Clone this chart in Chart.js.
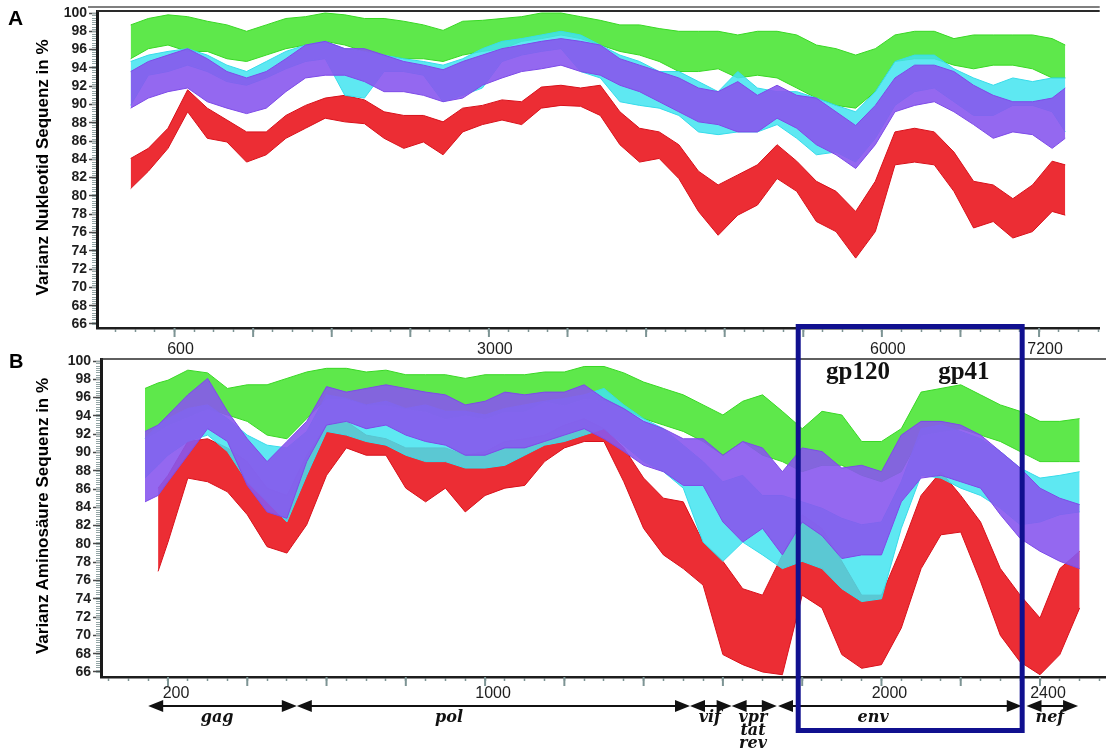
<!DOCTYPE html>
<html lang="de">
<head>
  <meta charset="UTF-8" />
  <title>Varianz Nukleotid- und Aminosäure-Sequenz</title>
  <script src="https://cdn.jsdelivr.net/npm/chart.js"></script>
  <style>
    body { margin: 0; background: #fff; }
    #page { position: relative; width: 1106px; height: 748px; overflow: hidden; }
    canvas, svg { position: absolute; left: 0; }
    #chartA { top: 0; }
    #chartB { top: 340px; }
    #overlay { top: 0; pointer-events: none; }
  </style>
</head>
<body>
<div id="page">
  <canvas id="chartA" width="1106" height="356"></canvas>
  <canvas id="chartB" width="1106" height="408"></canvas>
  <svg id="overlay" width="1106" height="748"></svg>
</div>

<script>
  // ---- panel A: nucleotide position (window centres) ----
  const xA = [265, 400, 550, 700, 850, 1000, 1150, 1300, 1450, 1600,
              1750, 1900, 2050, 2200, 2350, 2500, 2650, 2800, 2950, 3100,
              3250, 3400, 3550, 3700, 3850, 4000, 4150, 4300, 4450, 4600,
              4750, 4900, 5050, 5200, 5350, 5500, 5650, 5800, 5950, 6100,
              6250, 6400, 6550, 6700, 6850, 7000, 7150, 7300, 7400];

  // upper / lower edge of each group of curves, in %
  const greenTopA = [98.7, 99.4, 99.8, 99.6, 99.1, 98.7, 98.0, 98.7, 99.4, 99.6,
                     100.0, 99.8, 99.4, 99.4, 99.1, 98.7, 98.1, 99.1, 99.2, 99.4,
                     99.6, 100.0, 100.0, 99.6, 99.2, 98.7, 98.7, 98.3, 98.0, 98.0,
                     98.0, 97.6, 98.0, 98.0, 97.6, 96.5, 96.1, 95.4, 96.1, 97.6,
                     98.0, 98.0, 97.2, 97.6, 97.6, 97.6, 97.6, 97.2, 96.5];
  const greenBotA = [95.0, 96.1, 96.5, 95.8, 95.8, 95.0, 94.7, 95.4, 96.1, 96.5,
                     96.9, 96.5, 95.8, 95.4, 95.0, 95.0, 94.7, 95.4, 95.8, 96.1,
                     96.9, 97.2, 97.6, 97.2, 96.5, 95.8, 95.4, 94.7, 93.6, 93.6,
                     93.9, 92.9, 93.2, 92.9, 91.8, 90.7, 89.9, 89.6, 91.4, 94.7,
                     95.0, 95.0, 94.3, 93.9, 94.3, 94.3, 93.9, 92.9, 92.9];
  const cyanTopA  = [94.7, 95.4, 95.8, 96.1, 95.4, 94.3, 93.6, 94.7, 95.8, 96.5,
                     96.9, 96.1, 95.8, 95.4, 95.0, 94.7, 94.3, 95.0, 96.1, 96.9,
                     97.2, 97.6, 98.0, 97.6, 96.5, 95.4, 94.7, 93.6, 93.6, 92.5,
                     91.4, 93.6, 91.8, 91.4, 91.4, 90.7, 89.9, 89.2, 91.4, 94.7,
                     95.4, 95.4, 93.9, 92.9, 92.1, 92.9, 92.5, 92.9, 92.9];
  const cyanBotA  = [89.9, 93.2, 93.6, 94.3, 93.6, 92.5, 92.1, 92.9, 93.9, 94.7,
                     95.0, 91.0, 90.7, 93.6, 93.6, 93.2, 90.3, 91.0, 91.8, 94.7,
                     95.4, 95.8, 96.1, 93.6, 92.9, 90.3, 89.9, 89.6, 88.8, 87.0,
                     86.7, 87.0, 87.0, 87.8, 86.3, 84.5, 84.8, 83.7, 86.3, 89.9,
                     91.4, 91.8, 90.3, 88.8, 88.8, 89.9, 89.9, 89.2, 87.0];
  const purpleTopA = [93.6, 94.7, 95.4, 96.1, 95.0, 93.6, 92.9, 93.6, 95.0, 96.5,
                      96.9, 96.1, 96.1, 95.4, 94.7, 94.3, 93.8, 94.7, 95.4, 96.1,
                      96.5, 96.9, 97.2, 96.9, 96.5, 95.0, 94.3, 93.6, 92.9, 91.8,
                      91.4, 92.5, 91.0, 92.1, 91.0, 90.7, 89.2, 87.7, 89.9, 92.9,
                      94.3, 94.3, 93.6, 92.1, 91.0, 90.3, 90.3, 90.7, 91.8];
  const purpleBotA = [89.6, 90.7, 91.4, 91.8, 90.3, 89.6, 89.0, 89.6, 91.4, 92.9,
                      93.2, 93.2, 92.5, 91.4, 91.4, 91.0, 90.3, 90.7, 92.1, 92.9,
                      93.6, 93.9, 94.3, 93.6, 93.2, 92.1, 91.4, 90.3, 89.2, 88.1,
                      87.8, 87.0, 87.0, 88.5, 87.4, 85.6, 84.5, 83.0, 85.6, 89.2,
                      89.9, 90.3, 89.2, 87.8, 86.3, 87.0, 86.7, 85.2, 86.3];
  const redTopA = [84.1, 85.2, 87.4, 91.6, 89.6, 88.3, 87.0, 87.0, 88.8, 89.9,
                   90.7, 91.0, 90.5, 89.2, 88.8, 88.8, 88.1, 89.6, 89.9, 90.5,
                   90.3, 91.9, 92.1, 91.8, 92.1, 89.2, 87.4, 87.0, 85.6, 82.7,
                   81.2, 82.3, 83.4, 85.6, 83.8, 81.6, 80.5, 78.3, 81.6, 87.0,
                   87.4, 87.0, 84.8, 81.6, 81.2, 79.7, 81.2, 83.8, 83.4];
  const redBotA = [80.8, 82.7, 85.2, 89.2, 86.3, 85.9, 83.7, 84.5, 86.3, 87.4,
                   88.5, 88.1, 87.9, 86.3, 85.2, 85.9, 84.5, 87.0, 87.8, 88.3,
                   87.8, 89.6, 89.9, 89.8, 88.8, 85.6, 83.7, 84.1, 81.9, 78.3,
                   75.7, 77.9, 79.0, 81.9, 80.5, 77.2, 76.1, 73.2, 76.1, 83.4,
                   83.7, 83.4, 80.5, 76.5, 77.2, 75.4, 76.1, 78.3, 77.9];

  // ---- panel B: amino acid position ----
  const xB = [142, 175, 200, 250, 300, 350, 400, 450, 500, 550,
              600, 650, 700, 750, 800, 850, 900, 950, 1000, 1050,
              1100, 1150, 1200, 1250, 1300, 1350, 1400, 1450, 1500, 1550,
              1600, 1650, 1700, 1750, 1800, 1850, 1900, 1950, 2000, 2050,
              2100, 2150, 2200, 2250, 2300, 2350, 2400, 2450, 2500];

  const greenTopB = [97.0, 97.6, 97.9, 99.0, 98.7, 97.0, 97.4, 97.4, 98.1, 98.8,
                     99.2, 99.2, 98.8, 99.0, 98.5, 98.5, 98.5, 98.1, 98.5, 98.5,
                     98.5, 98.8, 98.8, 99.4, 99.4, 98.7, 97.7, 97.0, 96.3, 95.2,
                     94.1, 95.6, 96.3, 94.5, 92.6, 94.5, 94.1, 91.2, 91.2, 92.6,
                     96.6, 97.0, 97.4, 96.3, 95.2, 94.5, 93.4, 93.4, 93.7];
  const greenBotB = [91.5, 92.3, 93.0, 93.9, 94.8, 94.1, 93.4, 91.9, 91.5, 93.7,
                     95.9, 95.9, 95.2, 95.2, 94.8, 94.5, 93.7, 94.1, 93.7, 94.5,
                     94.5, 95.6, 95.2, 95.9, 95.7, 94.8, 93.7, 93.0, 92.3, 91.2,
                     89.7, 91.2, 89.7, 89.0, 87.9, 88.6, 88.6, 87.5, 86.8, 87.9,
                     91.9, 92.3, 92.6, 91.9, 91.2, 90.1, 89.0, 89.0, 89.0];
  const cyanTopB  = [91.5, 93.0, 93.7, 94.8, 95.2, 93.7, 91.9, 90.8, 90.5, 92.3,
                     96.3, 95.9, 95.2, 95.6, 94.8, 95.2, 94.5, 94.5, 94.1, 94.8,
                     95.2, 95.6, 95.9, 96.3, 97.0, 95.2, 93.7, 92.6, 90.8, 89.0,
                     86.8, 87.5, 85.3, 85.3, 84.6, 83.9, 82.8, 82.1, 82.4, 86.8,
                     92.6, 93.0, 92.3, 91.5, 90.1, 88.3, 87.2, 87.5, 87.9];
  const cyanBotB  = [87.2, 88.6, 89.7, 91.2, 91.9, 90.1, 86.8, 84.6, 82.4, 87.5,
                     92.3, 91.9, 91.2, 90.8, 89.7, 89.0, 89.0, 88.3, 88.3, 88.6,
                     89.7, 90.8, 91.2, 91.9, 92.6, 90.8, 89.0, 87.9, 86.1, 80.2,
                     78.1, 80.2, 78.8, 77.3, 78.1, 77.3, 75.1, 73.7, 74.0, 81.7,
                     87.5, 87.2, 86.1, 85.3, 83.9, 82.1, 82.4, 83.2, 83.5];
  const purpleTopB = [92.3, 93.0, 94.1, 96.3, 98.1, 94.5, 91.5, 89.0, 91.2, 93.4,
                      97.2, 96.6, 97.0, 97.4, 97.0, 96.6, 96.3, 95.2, 95.6, 96.6,
                      96.3, 96.6, 96.6, 97.4, 95.9, 94.8, 93.4, 92.6, 91.5, 91.5,
                      89.7, 91.2, 90.5, 87.9, 90.5, 90.1, 88.3, 88.6, 87.9, 91.9,
                      93.4, 93.4, 93.0, 91.9, 90.1, 88.3, 86.1, 85.0, 84.3];
  const purpleBotB = [84.6, 85.3, 86.8, 89.7, 92.6, 91.2, 86.4, 83.5, 82.8, 89.0,
                      93.0, 93.4, 92.6, 93.0, 91.9, 91.2, 90.8, 89.7, 89.7, 90.5,
                      90.5, 91.2, 91.9, 92.6, 91.5, 90.1, 88.6, 87.9, 86.4, 86.4,
                      82.4, 80.2, 81.7, 78.8, 82.4, 80.9, 78.4, 78.8, 78.8, 84.6,
                      87.2, 87.5, 86.8, 86.1, 83.2, 80.6, 79.2, 78.1, 77.3];
  const redTopB = [null, 86.1, 87.5, 91.2, 91.5, 90.5, 89.0, 86.1, 85.3, 89.7,
                   93.0, 93.4, 91.9, 91.5, 90.5, 90.5, 90.5, 89.7, 90.1, 91.2,
                   91.5, 91.9, 93.0, 93.7, 92.6, 90.5, 87.2, 85.0, 84.6, 80.2,
                   78.1, 75.1, 74.4, 78.8, 83.2, 81.7, 78.1, 74.4, 74.4, 79.5,
                   85.3, 87.9, 85.3, 82.4, 77.3, 74.4, 71.9, 77.3, 79.2];
  const redBotB = [null, 77.0, 80.2, 87.2, 86.8, 85.7, 83.2, 79.7, 79.0, 82.1,
                   87.5, 90.5, 89.7, 89.7, 86.1, 84.6, 86.1, 83.5, 85.3, 86.1,
                   86.4, 89.0, 90.5, 91.2, 91.2, 86.8, 81.7, 78.8, 77.3, 75.5,
                   67.9, 66.8, 66.0, 65.7, 74.4, 73.0, 67.9, 66.4, 66.8, 70.8,
                   77.3, 81.0, 81.3, 75.9, 70.0, 67.1, 65.7, 67.9, 73.0];

  // ---- axes ----
  const yTicks = [66, 68, 70, 72, 74, 76, 78, 80, 82, 84, 86, 88, 90, 92, 94, 96, 98, 100];
  const xLabelsA = [600, 3000, 6000, 7200];
  const xLabelsB = [200, 1000, 2000, 2400];

  // genome regions below panel B (amino acid positions)
  const genes = [
    { name: ['gag'], from: 150, to: 525, at: 324 },
    { name: ['pol'], from: 525, to: 1517, at: 909 },
    { name: ['vif'], from: 1517, to: 1622, at: 1567 },
    { name: ['vpr', 'tat', 'rev'], from: 1622, to: 1736, at: 1676 },
    { name: ['env'], from: 1739, to: 2354, at: 1979 },
    { name: ['nef'], from: 2366, to: 2496, at: 2425 }
  ];
  const envBox = [1790, 2355];
  const proteins = [{ name: 'gp120', at: 1941 }, { name: 'gp41', at: 2208 }];

  const SANS = "'Liberation Sans', Arial, Helvetica, sans-serif";
  const COLORS = {
    purple: ['#7d4ae8', 'rgba(136,88,238,0.9)'],
    cyan:   ['#36dcea', 'rgba(66,228,240,0.85)'],
    red:    ['#d8101a', 'rgba(234,22,30,0.9)'],
    green:  ['#38d824', 'rgba(66,228,44,0.85)']
  };

  const pts = (xs, ys) => xs.map((x, i) => ({ x: x, y: ys[i] })).filter(p => p.y !== null);

  // ruler ticks on y, longer major ticks on x, frame lines
  const axisExtras = {
    id: 'axisExtras',
    afterDraw(chart, args, opts) {
      const { ctx, chartArea: a, scales: { x, y } } = chart;
      ctx.save();
      ctx.strokeStyle = '#93a5a5';
      ctx.lineWidth = 1;
      for (let v = 66; v <= 100; v += 0.25) {
        const py = Math.round(y.getPixelForValue(v)) + 0.5;
        ctx.beginPath(); ctx.moveTo(a.left - 5, py); ctx.lineTo(a.left - 1, py); ctx.stroke();
      }
      ctx.strokeStyle = '#7d9494';
      ctx.lineWidth = 2;
      x.ticks.forEach(t => {
        if (t.value % opts.major === 0) {
          const px = x.getPixelForValue(t.value);
          ctx.beginPath(); ctx.moveTo(px, a.bottom); ctx.lineTo(px, a.bottom + 9); ctx.stroke();
        }
      });
      ctx.strokeStyle = '#2a2a2a';
      ctx.lineWidth = opts.topWidth;
      ctx.beginPath(); ctx.moveTo(a.left, a.top); ctx.lineTo(a.right, a.top); ctx.stroke();
      if (opts.doubleTop) {
        ctx.strokeStyle = '#555';
        ctx.lineWidth = 1.5;
        ctx.beginPath(); ctx.moveTo(a.left - 9, a.top - 4); ctx.lineTo(a.right, a.top - 4); ctx.stroke();
      }
      ctx.restore();
    }
  };

  function makeChart(id, xs, bands, o) {
    const datasets = [];
    bands.forEach(([key, top, bot]) => {
      const [line, fill] = COLORS[key];
      datasets.push({ data: pts(xs, top), borderColor: line, borderWidth: 1, pointRadius: 0, fill: false });
      datasets.push({ data: pts(xs, bot), borderColor: line, borderWidth: 1, pointRadius: 0,
                      fill: '-1', backgroundColor: fill });
    });

    return new Chart(document.getElementById(id), {
      type: 'line',
      data: { datasets: datasets },
      options: {
        responsive: false,
        animation: false,
        devicePixelRatio: 1,
        layout: { padding: { top: o.padTop, left: 0, right: 0, bottom: 0 } },
        plugins: {
          legend: { display: false },
          tooltip: { enabled: false },
          axisExtras: { major: o.major, topWidth: o.topWidth, doubleTop: o.doubleTop }
        },
        scales: {
          x: {
            type: 'linear',
            min: o.xMin, max: o.xMax,
            afterFit: s => { s.height = o.xHeight; },
            afterBuildTicks: s => {
              const t = [];
              for (let v = o.minor; v <= o.xMax; v += o.minor) t.push({ value: v });
              s.ticks = t;
            },
            ticks: {
              autoSkip: false, maxRotation: 0,
              padding: o.labelPad, labelOffset: o.labelOffset,
              font: { family: SANS, size: 16 }, color: '#1e1e1e',
              callback: v => o.labels.includes(v) ? String(v) : ''
            },
            grid: { drawOnChartArea: false, tickLength: 4, color: '#7d9494', tickWidth: 1.5 },
            border: { color: '#1e1e1e', width: 2.5 }
          },
          y: {
            min: o.yMin, max: o.yMax,
            afterFit: s => { s.width = o.yWidth; },
            afterBuildTicks: s => { s.ticks = yTicks.map(v => ({ value: v })); },
            ticks: { autoSkip: false, font: { family: SANS, size: 14, weight: 'bold' }, color: '#1e1e1e', padding: 2 },
            grid: { drawOnChartArea: false, tickLength: 8, color: '#4a4a4a', tickWidth: 1.5 },
            border: { color: '#1a1a1a', width: 3 }
          }
        }
      },
      plugins: [axisExtras]
    });
  }

  const chartA = makeChart('chartA', xA, [
    ['purple', purpleTopA, purpleBotA],
    ['cyan', cyanTopA, cyanBotA],
    ['red', redTopA, redBotA],
    ['green', greenTopA, greenBotA]
  ], { padTop: 11, xHeight: 28, yWidth: 97, xMin: 8, xMax: 7663, minor: 150, major: 600,
       yMin: 65.56, yMax: 100.22, labels: xLabelsA, labelPad: 8, labelOffset: 6,
       topWidth: 2, doubleTop: true });

  const chartB = makeChart('chartB', xB, [
    ['purple', purpleTopB, purpleBotB],
    ['cyan', cyanTopB, cyanBotB],
    ['red', redTopB, redBotB],
    ['green', greenTopB, greenBotB]
  ], { padTop: 19, xHeight: 71, yWidth: 101, xMin: 31, xMax: 2566.5, minor: 50, major: 200,
       yMin: 65.45, yMax: 100.22, labels: xLabelsB, labelPad: 3, labelOffset: 8,
       topWidth: 1.5, doubleTop: false });

  // ---- annotations ----
  const svg = document.getElementById('overlay');
  const NS = 'http://www.w3.org/2000/svg';
  function svgEl(tag, attrs, text) {
    const el = document.createElementNS(NS, tag);
    for (const k in attrs) el.setAttribute(k, attrs[k]);
    if (text !== undefined) el.textContent = text;
    svg.appendChild(el);
    return el;
  }

  svgEl('text', { x: 8, y: 25, 'font-family': SANS, 'font-weight': 'bold', 'font-size': 21 }, 'A');
  svgEl('text', { x: 9, y: 368, 'font-family': SANS, 'font-weight': 'bold', 'font-size': 20 }, 'B');
  svgEl('text', { transform: 'translate(47.5,167.5) rotate(-90)', 'text-anchor': 'middle',
                  'font-family': SANS, 'font-weight': 'bold', 'font-size': 17 }, 'Varianz Nukleotid Sequenz in %');
  svgEl('text', { transform: 'translate(47.5,516) rotate(-90)', 'text-anchor': 'middle',
                  'font-family': SANS, 'font-weight': 'bold', 'font-size': 17 }, 'Varianz Aminosäure Sequenz in %');

  const sx = chartB.scales.x;
  const arrowY = 706;
  genes.forEach(g => {
    const p1 = sx.getPixelForValue(g.from), p2 = sx.getPixelForValue(g.to);
    svgEl('line', { x1: p1 + 8, y1: arrowY, x2: p2 - 8, y2: arrowY, stroke: '#111', 'stroke-width': 2 });
    svgEl('polygon', { points: `${p1},${arrowY} ${p1 + 15},${arrowY - 6} ${p1 + 15},${arrowY + 6}`, fill: '#111' });
    svgEl('polygon', { points: `${p2},${arrowY} ${p2 - 15},${arrowY - 6} ${p2 - 15},${arrowY + 6}`, fill: '#111' });
    const cx = sx.getPixelForValue(g.at);
    g.name.forEach((n, i) => {
      svgEl('text', { x: cx, y: 722 + i * 13, 'text-anchor': 'middle', 'font-family': "'DejaVu Serif', serif",
                      'font-weight': 'bold', 'font-style': 'italic', 'font-size': 16, fill: '#111' }, n);
    });
  });

  const bx1 = sx.getPixelForValue(envBox[0]), bx2 = sx.getPixelForValue(envBox[1]);
  svgEl('rect', { x: bx1, y: 326.5, width: bx2 - bx1, height: 404, fill: 'none',
                  stroke: '#10108f', 'stroke-width': 5 });
  proteins.forEach(p => {
    svgEl('text', { x: sx.getPixelForValue(p.at), y: 379, 'text-anchor': 'middle',
                    'font-family': "'Liberation Serif', 'Times New Roman', serif", 'font-weight': 'bold',
                    'font-size': 25, fill: '#111' }, p.name);
  });
</script>
</body>
</html>
